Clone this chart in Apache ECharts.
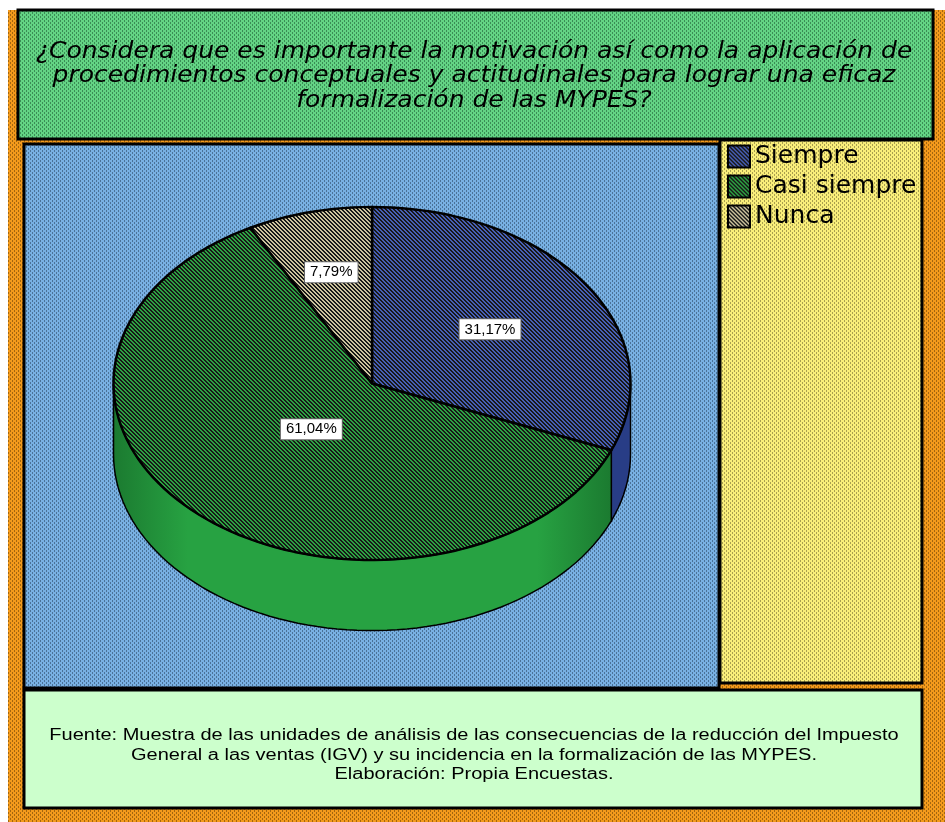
<!DOCTYPE html>
<html>
<head>
<meta charset="UTF-8"/>
<title>Motivación y formalización de las MYPES</title>
<script src="https://cdn.jsdelivr.net/npm/echarts@6/dist/echarts.min.js"></script>
<style>
  html, body { margin: 0; padding: 0; background: #fff; }
  #chart { width: 945px; height: 822px; }
</style>
</head>
<body>
<div id="chart"></div>
<script>
// datos
var categories = ['Siempre', 'Casi siempre', 'Nunca'];
var values = [31.17, 61.04, 7.79];
var titleLines = [
    '¿Considera que es importante la motivación así como la aplicación de',
    'procedimientos conceptuales y actitudinales para lograr una eficaz',
    'formalización de las MYPES?'
];
var footerLines = [
    'Fuente: Muestra de las unidades de análisis de las consecuencias de la reducción del Impuesto',
    'General a las ventas (IGV) y su incidencia en la formalización de las MYPES.',
    'Elaboración: Propia Encuestas.'
];

// estilos
var faceColors = ['#475fb6', '#2ca542', '#cdc49e'];
var wallColors = [['#30468f', '#283d86'], ['#1b7a30', '#27a242'], ['#a9a07c', '#8f8766']];
var labelRadius = [0.55, 0.35, 0.65];
var depth = 0.4;   // grosor del pastel en unidades del eje y

function dots(base, dark) {
    var c = document.createElement('canvas');
    c.width = 4; c.height = 4;
    var g = c.getContext('2d');
    g.fillStyle = base; g.fillRect(0, 0, 4, 4);
    g.fillStyle = dark;
    g.fillRect(0, 0, 1, 2);
    g.fillRect(2, 2, 1, 2);
    return {image: c, repeat: 'repeat'};
}
function hatch(base) {
    var c = document.createElement('canvas');
    c.width = 4; c.height = 4;
    var g = c.getContext('2d');
    g.fillStyle = base; g.fillRect(0, 0, 4, 4);
    g.fillStyle = '#181818';
    for (var y = 0; y < 4; y++) {
        for (var x = 0; x < 4; x++) {
            if (((x - y) % 4 + 4) % 4 < 2) g.fillRect(x, y, 1, 1);
        }
    }
    return {image: c, repeat: 'repeat'};
}

var total = values.reduce(function (a, b) { return a + b; }, 0);

function arcPts(api, a0, a1, dy) {
    var n = Math.max(2, Math.ceil((a1 - a0) / (Math.PI * 2) * 160));
    var pts = [];
    for (var k = 0; k <= n; k++) {
        var a = a0 + (a1 - a0) * k / n;
        pts.push(api.coord([Math.sin(a), Math.cos(a) + dy]));
    }
    return pts;
}

function renderSlice(params, api) {
    var i = api.value(0);
    var v = api.value(1);
    var start = 0;
    for (var j = 0; j < i; j++) start += values[j];
    var a0 = start / total * Math.PI * 2;
    var a1 = (start + v) / total * Math.PI * 2;
    var children = [];

    // cara lateral (solo la parte frontal es visible)
    var w0 = Math.max(a0, Math.PI / 2), w1 = Math.min(a1, Math.PI * 3 / 2);
    if (w1 > w0) {
        var top = arcPts(api, w0, w1, 0);
        var bot = arcPts(api, w0, w1, -depth).reverse();
        children.push({
            type: 'polygon',
            shape: {points: top.concat(bot)},
            style: {
                fill: {type: 'linear', x: 0, y: 0, x2: 1, y2: 0, colorStops: [
                    {offset: 0, color: wallColors[i][0]},
                    {offset: 0.15, color: wallColors[i][1]},
                    {offset: 0.85, color: wallColors[i][1]},
                    {offset: 1, color: wallColors[i][0]}
                ]},
                stroke: '#000', lineWidth: 1.5
            }
        });
    }

    // cara superior
    var pts = [api.coord([0, 0])].concat(arcPts(api, a0, a1, 0));
    children.push({
        type: 'polygon',
        shape: {points: pts},
        style: {fill: hatch(faceColors[i]), stroke: '#000', lineWidth: 2.5, lineJoin: 'round'}
    });

    var mid = (a0 + a1) / 2, r = labelRadius[i];
    var p = api.coord([r * Math.sin(mid), r * Math.cos(mid)]);
    children.push({
        type: 'text',
        z2: 20,
        style: {
            x: p[0], y: p[1],
            text: v.toFixed(2).replace('.', ',') + '%',
            font: '15px "Liberation Sans", Arial, sans-serif',
            fill: '#000',
            align: 'center', verticalAlign: 'middle',
            backgroundColor: '#fff', borderColor: '#666', borderWidth: 1,
            padding: [3, 5, 2, 5]
        }
    });
    return {type: 'group', children: children};
}

var series = categories.map(function (name, i) {
    return {
        type: 'custom',
        name: name,
        silent: true,
        coordinateSystem: 'cartesian2d',
        itemStyle: {color: hatch(faceColors[i])},
        data: [[i, values[i]]],
        renderItem: renderSlice
    };
});

var chart = echarts.init(document.getElementById('chart'), null, {renderer: 'canvas'});
chart.setOption({
    animation: false,
    backgroundColor: '#fff',
    grid: {left: 113.5, top: 207, width: 517, height: 176.5 * (2 + depth)},
    xAxis: {type: 'value', min: -1, max: 1, show: false},
    yAxis: {type: 'value', min: -1 - depth, max: 1, show: false},
    legend: {
        orient: 'vertical',
        left: 727, top: 144, padding: 0,
        icon: 'rect',
        itemWidth: 22, itemHeight: 22, itemGap: 5,
        selectedMode: false,
        data: categories.map(function (name, i) {
            return {name: name, itemStyle: {color: hatch(faceColors[i]), borderColor: '#000', borderWidth: 2}};
        }),
        textStyle: {fontFamily: 'DejaVu Sans', fontSize: 25, color: '#000'}
    },
    graphic: [
        {type: 'rect', z: 0, silent: true, shape: {x: 8, y: 10, width: 937, height: 812},
            style: {fill: dots('#f39a1c', '#a4660e')}},
        {type: 'rect', z: 1, silent: true, shape: {x: 18, y: 10, width: 915, height: 129},
            style: {fill: dots('#63d384', '#3a8d55'), stroke: '#000', lineWidth: 3}},
        {type: 'rect', z: 1, silent: true, shape: {x: 24, y: 144, width: 695, height: 544},
            style: {fill: dots('#78b0e2', '#4a7298'), stroke: '#000', lineWidth: 3}},
        {type: 'rect', z: 1, silent: true, shape: {x: 720, y: 140, width: 202, height: 543},
            style: {fill: dots('#f9ee7a', '#a99f4e'), stroke: '#000', lineWidth: 3}},
        {type: 'rect', z: 1, silent: true, shape: {x: 24, y: 690, width: 898, height: 118},
            style: {fill: '#ccffcc', stroke: '#000', lineWidth: 3}},
        {type: 'text', z: 5, silent: true, x: 474, y: 40, scaleY: 0.9,
            style: {text: titleLines.join('\n'), font: 'italic 25px "DejaVu Sans"', fill: '#000',
                align: 'center', verticalAlign: 'top', lineHeight: 27}},
        {type: 'text', z: 5, silent: true, x: 474, y: 726, scaleX: 1.25,
            style: {text: footerLines.join('\n'), font: '16px "Liberation Sans", Arial', fill: '#000',
                align: 'center', verticalAlign: 'top', lineHeight: 19.5}}
    ],
    series: series
});
</script>
</body>
</html>
